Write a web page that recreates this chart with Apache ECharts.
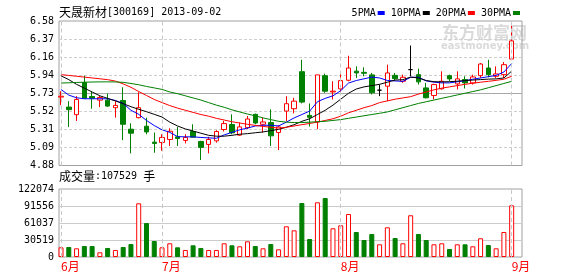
<!DOCTYPE html>
<html><head><meta charset="utf-8">
<script src="https://cdn.jsdelivr.net/npm/echarts@6/dist/echarts.min.js"></script>
<style>html,body{margin:0;padding:0;background:#fff}#c{width:578px;height:276px}</style>
</head><body><div id="c"></div>
<script>
const stockName = '天晟新材';
const stockCode = '[300169] 2013-09-02';
const lastVolumeText = ':107529 ';
const priceTicks = ['4.88','5.09','5.31','5.52','5.73','5.94','6.16','6.37','6.58'];
const volTicks = ['0','30519','61037','91556','122074'];
const monthStarts = [0, 13, 36, 58];
const monthLabels = ['6月','7月','8月','9月'];
const opens  = [5.685,5.567,5.478,5.856,5.692,5.649,5.649,5.56,5.645,5.307,5.443,5.342,5.155,5.151,5.186,5.217,5.175,5.28,5.163,5.128,5.17,5.303,5.362,5.237,5.326,5.482,5.365,5.385,5.268,5.52,5.548,5.984,5.47,5.392,5.937,5.745,5.782,5.883,5.99,5.976,5.946,5.766,5.813,5.941,5.871,6.008,5.949,5.793,5.704,5.782,5.937,5.84,5.891,5.852,5.937,6.027,5.93,5.949,6.133];
const closes = [5.695,5.537,5.657,5.672,5.672,5.68,5.579,5.587,5.365,5.26,5.56,5.275,5.14,5.21,5.283,5.198,5.21,5.213,5.093,5.186,5.28,5.373,5.264,5.334,5.427,5.38,5.392,5.229,5.334,5.607,5.637,5.626,5.447,5.946,5.754,5.755,5.879,6.027,5.969,5.965,5.735,5.766,5.969,5.902,5.918,6.008,5.864,5.677,5.832,5.871,5.899,5.899,5.852,5.922,6.074,5.949,5.957,6.066,6.346];
const lows   = [5.59,5.334,5.404,5.672,5.548,5.567,5.57,5.443,5.178,5.023,5.435,5.248,5.03,5.053,5.11,5.11,5.14,5.21,4.944,5.023,5.15,5.28,5.248,5.229,5.307,5.365,5.268,5.11,5.061,5.404,5.494,5.61,5.338,5.307,5.735,5.657,5.727,5.871,5.91,5.93,5.716,5.696,5.637,5.883,5.852,5.93,5.832,5.669,5.657,5.774,5.871,5.774,5.786,5.832,5.91,5.918,5.91,5.91,6.13];
const highs  = [5.754,5.637,5.696,5.937,5.747,5.70,5.724,5.637,5.80,5.377,5.742,5.443,5.268,5.248,5.318,5.334,5.248,5.365,5.17,5.217,5.295,5.404,5.482,5.385,5.462,5.49,5.443,5.54,5.353,5.696,5.677,6.124,5.61,5.946,5.961,5.871,5.969,6.171,6.046,6.035,5.969,5.832,6.066,5.969,5.949,6.291,6.019,5.852,5.84,5.988,5.949,5.988,5.93,5.949,6.086,6.124,6.046,6.097,6.522];
const volumes = [17400,18000,15600,19700,19700,8400,16200,12600,18000,23300,96400,61000,28700,17400,24600,17400,12600,21000,16200,12600,12600,24600,21000,19200,28100,19700,15600,23300,13800,55100,47900,96900,32300,98200,105900,51500,56900,77200,44900,30500,41300,22800,53300,34100,24600,74900,41300,30500,22800,24600,14400,22800,22800,19200,33600,21500,15600,44900,92800];
const ma5  = [5.774,5.708,5.677,5.665,5.665,5.665,5.665,5.645,5.61,5.53,5.482,5.41,5.35,5.30,5.27,5.22,5.217,5.217,5.21,5.205,5.20,5.24,5.27,5.30,5.32,5.345,5.353,5.353,5.345,5.39,5.44,5.48,5.52,5.63,5.67,5.70,5.76,5.85,5.88,5.90,5.92,5.91,5.88,5.875,5.87,5.918,5.918,5.875,5.86,5.852,5.852,5.865,5.878,5.895,5.91,5.925,5.94,5.98,6.08];
const ma10 = [5.935,5.89,5.835,5.79,5.745,5.70,5.67,5.64,5.607,5.572,5.541,5.513,5.482,5.45,5.39,5.345,5.31,5.285,5.26,5.235,5.225,5.225,5.235,5.248,5.255,5.265,5.275,5.29,5.305,5.33,5.36,5.40,5.43,5.48,5.53,5.59,5.66,5.73,5.78,5.805,5.82,5.835,5.86,5.885,5.89,5.92,5.91,5.88,5.866,5.864,5.866,5.872,5.879,5.885,5.891,5.896,5.899,5.91,5.99];
const ma20 = [5.949,5.94,5.93,5.92,5.91,5.90,5.89,5.873,5.84,5.80,5.75,5.704,5.657,5.62,5.585,5.555,5.53,5.505,5.48,5.46,5.435,5.415,5.395,5.38,5.365,5.352,5.34,5.33,5.32,5.33,5.345,5.36,5.375,5.39,5.41,5.43,5.46,5.50,5.53,5.56,5.585,5.62,5.64,5.66,5.675,5.69,5.72,5.745,5.77,5.79,5.805,5.82,5.835,5.848,5.86,5.87,5.882,5.895,5.93];
const ma30 = [5.85,5.853,5.857,5.86,5.862,5.864,5.864,5.863,5.858,5.845,5.83,5.81,5.793,5.775,5.745,5.725,5.70,5.675,5.65,5.62,5.59,5.565,5.535,5.51,5.485,5.465,5.44,5.42,5.40,5.39,5.385,5.385,5.39,5.395,5.40,5.41,5.42,5.435,5.45,5.465,5.48,5.494,5.51,5.535,5.56,5.585,5.61,5.63,5.65,5.67,5.69,5.71,5.73,5.75,5.77,5.795,5.82,5.845,5.87];
const maNames = ['5PMA','10PMA','20PMA','30PMA'];

const RED = '#ff0000', GREEN = '#008000';
const MONO = 'DejaVu Sans Mono', CJK = 'Noto Sans CJK SC';
const chart = echarts.init(document.getElementById('c'), null, {renderer: 'canvas'});
const candleData = opens.map((o, i) => [i, o, closes[i], lows[i], highs[i]]);
const volData = volumes.map((v, i) => ({
  value: [i, v],
  itemStyle: closes[i] >= opens[i]
    ? {color: '#fff', borderColor: RED, borderWidth: 1}
    : {color: GREEN, borderColor: GREEN, borderWidth: 1}
}));
const monthLine = {
  silent: true, symbol: 'none', animation: false,
  label: {show: false},
  lineStyle: {color: '#c8c8c8', type: [4, 3], width: 1},
  data: monthStarts.map(m => ({xAxis: m}))
};
const xMin = -0.26, xMax = 59.33;
const richTxt = {
  c: {fontFamily: CJK, fontSize: 12, fontWeight: 'normal', color: '#000'},
  m: {fontFamily: MONO, fontSize: 10, fontWeight: 'normal', color: '#000'}
};
const maColors = ['#0000ff', '#000000', RED, GREEN];
const maData = [ma5, ma10, ma20, ma30];

chart.setOption({
  animation: false,
  backgroundColor: '#fff',
  title: [
    {left: 59, top: 6, padding: 0, text: '{c|' + stockName + '}{m|' + stockCode + '}', textStyle: {fontWeight: 'normal', rich: richTxt}},
    {left: 59, top: 170, padding: 0, text: '{c|成交量}{m|' + lastVolumeText + '}{c|手}', textStyle: {fontWeight: 'normal', rich: richTxt}}
  ],
  legend: {
    right: 58, top: 8, padding: 0, itemGap: 6, itemWidth: 7, itemHeight: 4,
    align: 'right', icon: 'rect', selectedMode: false,
    textStyle: {fontFamily: MONO, fontSize: 10, color: '#000', padding: [0, -3, 0, 0]},
    data: maNames
  },
  graphic: [
    {type: 'text', left: 442, top: 24, z: -1, silent: true,
     style: {text: '东方财富网', fontFamily: CJK, fontWeight: 'bold', fontSize: 17, fill: '#dadada'}},
    {type: 'text', left: 441, top: 41, z: -1, silent: true,
     style: {text: 'eastmoney.com', fontFamily: 'DejaVu Sans', fontWeight: 'bold', fontSize: 10, fill: '#dadada'}}
  ],
  grid: [
    {left: 59, right: 56, top: 21, height: 144.5, show: true, borderColor: '#a0a0a0', borderWidth: 1, backgroundColor: 'transparent'},
    {left: 59, right: 56, top: 189, height: 68, show: true, borderColor: '#a0a0a0', borderWidth: 1, backgroundColor: 'transparent'}
  ],
  xAxis: [
    {type: 'value', gridIndex: 0, min: xMin, max: xMax, show: false, splitLine: {show: false}},
    {type: 'value', gridIndex: 1, min: xMin, max: xMax, position: 'bottom',
     axisLine: {show: false}, axisTick: {show: false}, splitLine: {show: false},
     axisLabel: {
       customValues: monthStarts, margin: 3, align: 'left',
       color: RED, fontFamily: CJK, fontSize: 12,
       formatter: v => monthLabels[monthStarts.indexOf(Math.round(v))] || ''
     }}
  ],
  yAxis: [
    {type: 'value', gridIndex: 0, position: 'left', min: Number(priceTicks[0]), max: Number(priceTicks[priceTicks.length - 1]), show: false, splitLine: {show: false}},
    {type: 'value', gridIndex: 0, position: 'left', offset: 0, min: 0, max: priceTicks.length - 1, interval: 1,
     axisLine: {show: false}, axisTick: {show: false},
     axisLabel: {margin: 5, fontFamily: MONO, fontSize: 10, color: '#000', formatter: v => priceTicks[v]},
     splitLine: {show: true, showMinLine: false, showMaxLine: false, lineStyle: {color: '#cfcfcf', type: [3, 2], width: 1}}},
    {type: 'value', gridIndex: 0, position: 'right', min: 0, max: 2, interval: 1,
     axisLine: {show: false}, axisTick: {show: false}, axisLabel: {show: false},
     splitLine: {show: true, showMinLine: false, showMaxLine: false, lineStyle: {color: '#a8a8a8', width: 1}}},
    {type: 'value', gridIndex: 1, position: 'right', min: 0, max: Number(volTicks[volTicks.length - 1]), show: false, splitLine: {show: false}},
    {type: 'value', gridIndex: 1, position: 'left', offset: 0, min: 0, max: volTicks.length - 1, interval: 1,
     axisLine: {show: false}, axisTick: {show: false},
     axisLabel: {margin: 5, fontFamily: MONO, fontSize: 10, color: '#000', formatter: v => volTicks[v]},
     splitLine: {show: true, showMinLine: false, showMaxLine: false, lineStyle: {color: '#cccccc', width: 1}}}
  ],
  series: [
    {type: 'candlestick', xAxisIndex: 0, yAxisIndex: 0, barWidth: 5,
     encode: {x: 0, y: [1, 2, 3, 4]},
     itemStyle: {color: '#fff', color0: GREEN, borderColor: RED, borderColor0: GREEN, borderColorDoji: '#000', borderWidth: 1},
     data: candleData, markLine: monthLine},
    ...maNames.map((n, k) => ({
      name: n, type: 'line', xAxisIndex: 0, yAxisIndex: 0, symbol: 'none', smooth: false,
      itemStyle: {color: maColors[k]},
      lineStyle: {color: maColors[k], width: 1},
      data: maData[k].map((v, i) => [i, v])
    })),
    {type: 'bar', xAxisIndex: 1, yAxisIndex: 3, barWidth: 5, data: volData, markLine: monthLine}
  ]
});
</script></body></html>
